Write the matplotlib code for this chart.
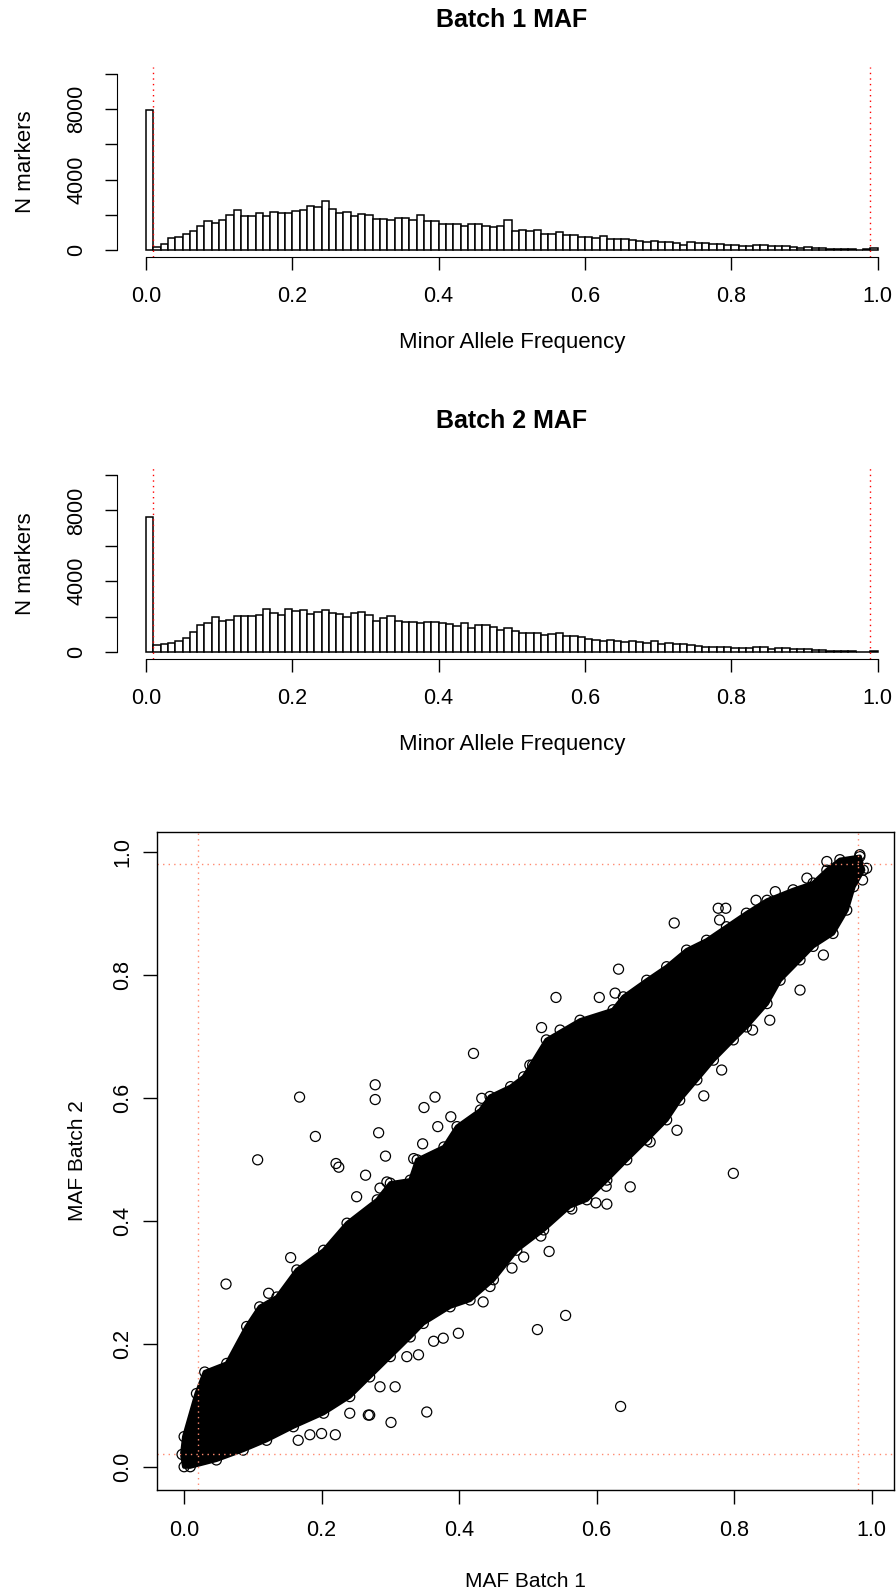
import numpy as np
import matplotlib.pyplot as plt

plt.rcParams['font.family'] = ['Liberation Sans', 'DejaVu Sans']

# histogram counts, bins of width 0.01 from 0 to 1
batch1_counts = [7950, 190, 360, 664, 740, 929, 1062, 1384, 1668, 1555,
                 1725, 1972, 2256, 1915, 1915, 2124, 1915, 2161, 2124, 2124,
                 2237, 2294, 2503, 2465, 2768, 2332, 2124, 2180, 1934, 2048,
                 1972, 1782, 1744, 1687, 1820, 1801, 1725, 2010, 1668, 1668,
                 1498, 1498, 1460, 1384, 1479, 1470, 1360, 1280, 1384, 1725,
                 1081, 1157, 1100, 1157, 929, 891, 1024, 834, 834, 740,
                 758, 702, 777, 645, 645, 626, 550, 531, 474, 493,
                 474, 436, 398, 303, 455, 398, 398, 322, 341, 265,
                 265, 246, 209, 265, 265, 209, 209, 209, 152, 133,
                 152, 133, 95, 57, 57, 38, 38, 19, 38, 95]

batch2_counts = [7623, 377, 453, 491, 642, 811, 1151, 1510, 1642, 2000,
                 1755, 1812, 2038, 2038, 2019, 2095, 2453, 2189, 2113, 2453,
                 2340, 2378, 2151, 2246, 2378, 2208, 2170, 1981, 2189, 2283,
                 2076, 1774, 1925, 2057, 1755, 1698, 1698, 1642, 1698, 1698,
                 1642, 1604, 1472, 1642, 1377, 1528, 1547, 1415, 1264, 1359,
                 1189, 1076, 1076, 1076, 962, 1019, 1094, 925, 925, 868,
                 736, 679, 642, 679, 604, 566, 623, 566, 509, 623,
                 472, 491, 453, 472, 415, 358, 302, 283, 283, 283,
                 226, 226, 245, 264, 264, 189, 226, 208, 189, 170,
                 170, 113, 94, 75, 57, 57, 38, 19, 19, 75]

bin_width = 0.01
bin_left = np.arange(len(batch1_counts)) * bin_width

# outline of the dense cloud of points (upper edge, then lower edge back)
band_x = [0.0, -0.003, 0.0, 0.018, 0.030, 0.062, 0.091, 0.110, 0.135, 0.164,
          0.203, 0.237, 0.281, 0.300, 0.329, 0.339, 0.378, 0.397, 0.431, 0.445,
          0.475, 0.494, 0.527, 0.576, 0.624, 0.639, 0.673, 0.702, 0.731, 0.760,
          0.789, 0.818, 0.848, 0.886, 0.915, 0.935, 0.954, 0.983,
          0.988, 0.974, 0.964, 0.944, 0.915, 0.896, 0.867, 0.848, 0.818, 0.799,
          0.770, 0.746, 0.721, 0.702, 0.673, 0.644, 0.615, 0.586, 0.561, 0.523,
          0.484, 0.450, 0.416, 0.387, 0.348, 0.329, 0.300, 0.270, 0.241, 0.203,
          0.159, 0.120, 0.086, 0.047, 0.009]
band_y = [0.0, 0.020, 0.049, 0.119, 0.154, 0.168, 0.228, 0.260, 0.276, 0.320,
          0.352, 0.396, 0.434, 0.461, 0.466, 0.499, 0.520, 0.553, 0.580, 0.602,
          0.618, 0.634, 0.694, 0.726, 0.743, 0.764, 0.791, 0.813, 0.840, 0.856,
          0.878, 0.900, 0.921, 0.938, 0.949, 0.970, 0.987, 0.992,
          0.970, 0.943, 0.905, 0.867, 0.846, 0.824, 0.791, 0.753, 0.715, 0.694,
          0.661, 0.629, 0.596, 0.564, 0.531, 0.499, 0.466, 0.434, 0.423, 0.385,
          0.352, 0.304, 0.271, 0.260, 0.233, 0.211, 0.179, 0.146, 0.114, 0.087,
          0.065, 0.043, 0.027, 0.011, 0.0]

# isolated markers outside the cloud
out_x = [0.421, 0.278, 0.278, 0.168, 0.365, 0.349, 0.388, 0.369, 0.283, 0.191,
         0.347, 0.293, 0.107, 0.221, 0.225, 0.264, 0.295, 0.285, 0.251, 0.334,
         0.155, 0.061, 0.123, 0.433, 0.353, 0.301, 0.377, 0.307, 0.399, 0.363,
         0.270, 0.220, 0.200, 0.166, 0.183, 0.241, 0.268, 0.285, 0.324, 0.341,
         0.435, 0.445, 0.494, 0.477, 0.799, 0.635, 0.514, 0.555, 0.649, 0.599,
         0.615, 0.531, 0.519, 0.564, 0.614, 0.713, 0.632, 0.541, 0.604, 0.627,
         0.520, 0.896, 0.852, 0.827, 0.782, 0.756, 0.717, 0.678, 0.930, 0.987,
         0.993, 0.983, 0.935, 0.906, 0.860, 0.832, 0.777, 0.788, 0.779, 0.507,
         0.547, 0.503]
out_y = [0.672, 0.621, 0.597, 0.601, 0.601, 0.584, 0.569, 0.553, 0.543, 0.537,
         0.525, 0.505, 0.499, 0.493, 0.487, 0.474, 0.463, 0.453, 0.439, 0.501,
         0.340, 0.297, 0.282, 0.599, 0.089, 0.072, 0.209, 0.130, 0.217, 0.204,
         0.084, 0.052, 0.054, 0.043, 0.052, 0.087, 0.084, 0.130, 0.179, 0.182,
         0.268, 0.293, 0.341, 0.323, 0.477, 0.098, 0.223, 0.246, 0.455, 0.429,
         0.427, 0.350, 0.375, 0.419, 0.456, 0.884, 0.809, 0.763, 0.763, 0.770,
         0.714, 0.775, 0.726, 0.710, 0.645, 0.603, 0.547, 0.528, 0.832, 0.954,
         0.973, 0.995, 0.984, 0.957, 0.935, 0.921, 0.908, 0.908, 0.889, 0.653,
         0.710, 0.653]

W, H = 896, 1590
fig = plt.figure(figsize=(W / 100, H / 100), dpi=100)


def px_axes(left, top, right, bottom):
    return fig.add_axes([left / W, 1 - bottom / H, (right - left) / W, (bottom - top) / H])


def draw_hist(counts, top, bottom, title):
    ax = px_axes(116.7, top, 906.8, bottom)
    ax.bar(bin_left, counts, width=bin_width, align='edge', color='white',
           edgecolor='black', linewidth=1.1)
    ax.set_xlim(-0.04, 1.04)
    ax.set_ylim(-400, 10400)
    ax.axvline(0.01, color='red', linestyle=(0, (1, 3)), linewidth=1)
    ax.axvline(0.99, color='red', linestyle=(0, (1, 3)), linewidth=1)
    for s in ['top', 'right']:
        ax.spines[s].set_visible(False)
    ax.spines['left'].set_bounds(0, 10000)
    ax.spines['bottom'].set_bounds(0, 1)
    ax.set_xticks([0, 0.2, 0.4, 0.6, 0.8, 1.0])
    ax.set_xticklabels(['0.0', '0.2', '0.4', '0.6', '0.8', '1.0'])
    ax.set_yticks([0, 2000, 4000, 6000, 8000, 10000])
    ax.set_yticklabels(['0', '', '4000', '', '8000', ''])
    ax.tick_params(axis='x', length=9, width=1, labelsize=15.5, pad=12)
    ax.tick_params(axis='y', length=9, width=1, labelsize=15.5, pad=12,
                   labelrotation=90)
    for lab in ax.get_yticklabels():
        lab.set_va('center')
    ax.set_title(title, fontsize=18, fontweight='bold', pad=29)
    ax.set_xlabel('Minor Allele Frequency', fontsize=16, labelpad=18)
    ax.set_ylabel('N markers', fontsize=16, labelpad=22)
    return ax


draw_hist(batch1_counts, 67, 257, 'Batch 1 MAF')
draw_hist(batch2_counts, 468, 659, 'Batch 2 MAF')

ax = px_axes(156.8, 832.3, 894.2, 1489.5)
ax.fill(band_x, band_y, facecolor='black', edgecolor='black', linewidth=3,
        joinstyle='round')
ax.scatter(band_x, band_y, s=52, facecolors='none', edgecolors='black', linewidths=0.9)
ax.scatter(out_x, out_y, s=52, facecolors='none', edgecolors='black', linewidths=0.9)
for v in [0.02, 0.98]:
    ax.axvline(v, color='#ff8a70', linestyle=(0, (1, 3)), linewidth=1)
    ax.axhline(v, color='#ff8a70', linestyle=(0, (1, 3)), linewidth=1)
ax.set_xlim(-0.0397, 1.033)
ax.set_ylim(-0.037, 1.0315)
ticks = [0, 0.2, 0.4, 0.6, 0.8, 1.0]
labs = ['0.0', '0.2', '0.4', '0.6', '0.8', '1.0']
ax.set_xticks(ticks)
ax.set_xticklabels(labs)
ax.set_yticks(ticks)
ax.set_yticklabels(labs)
ax.tick_params(axis='x', length=10, width=1, labelsize=15.5, pad=12)
ax.tick_params(axis='y', length=10, width=1, labelsize=15.5, pad=7, labelrotation=90)
for lab in ax.get_yticklabels():
    lab.set_va('center')
for s in ax.spines.values():
    s.set_linewidth(1)
ax.set_xlabel('MAF Batch 1', fontsize=15, labelpad=22)
ax.set_ylabel('MAF Batch 2', fontsize=15, labelpad=18)

fig.savefig('out.png', dpi=100)
